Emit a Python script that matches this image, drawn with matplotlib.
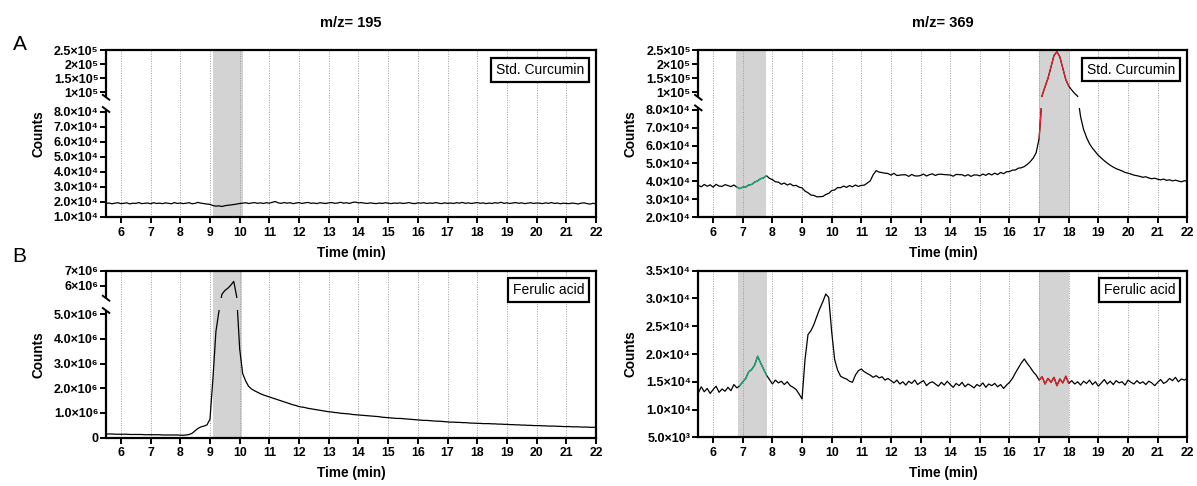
import numpy as np
import matplotlib
matplotlib.use("Agg")
import matplotlib.pyplot as plt
from matplotlib.patches import Rectangle

plt.rcParams['font.family'] = ['Liberation Sans', 'DejaVu Sans']

time_min = np.round(np.arange(5.5, 22.05, 0.1), 1)

# m/z 195, Std. Curcumin (x1e3 counts)
a195 = [19.0, 19.3, 18.8, 19.2, 19.5, 18.9, 19.1, 19.4, 18.7, 19.2,
        19.0, 19.6, 18.9, 19.1, 19.3, 18.8, 19.5, 19.0, 19.2, 18.9,
        19.4, 19.1, 18.8, 19.6, 19.0, 19.3, 18.9, 19.2, 19.5, 18.8,
        19.1, 19.7, 19.2, 18.9, 18.6, 18.4,
        17.6, 17.2, 17.4, 17.0, 17.5, 17.8, 18.0, 18.3, 18.6, 19.0,
        19.2, 19.5, 19.0, 19.3, 19.6, 19.1, 19.4, 19.0, 19.5, 19.2,
        19.8, 20.3, 19.4, 19.1, 19.6, 19.2, 19.5, 18.9, 19.3, 19.6,
        19.0, 19.4, 19.7, 19.1, 19.3, 18.9, 19.5, 19.2, 19.0, 19.4,
        19.6, 19.1, 19.3, 19.8, 19.2, 19.5, 19.0, 19.7, 19.9, 19.4,
        19.6, 19.2, 19.0, 19.4, 19.1, 18.9, 19.3, 19.0, 19.5, 19.2,
        18.9, 19.3, 19.1, 19.4, 19.0, 19.2, 19.6, 19.1, 18.9, 19.4,
        19.2, 19.5, 19.0, 19.3, 19.1, 19.6, 19.2, 18.9, 19.4, 19.1,
        19.3, 19.0, 19.5, 19.2, 19.7, 19.1, 19.4, 19.0, 19.3, 19.6,
        19.1, 19.4, 18.9, 19.3, 19.0, 19.5, 19.2, 19.8, 19.1, 19.4,
        19.0, 19.3, 19.6, 19.1, 19.4, 18.9, 19.2, 19.5, 19.0, 19.3,
        19.2, 18.9, 19.4, 19.1, 19.6, 19.0, 19.3, 18.8, 19.2, 19.0,
        18.9, 19.3, 19.0, 18.7, 19.2, 19.4, 18.9, 18.6, 19.1, 18.8]

# m/z 369, Std. Curcumin (x1e3 counts)
a369 = [37.8, 37.0, 38.3, 37.3, 38.1, 36.8, 38.4, 37.4, 37.2, 38.2,
        37.7, 37.1, 38.0, 36.8, 36.0, 36.8, 36.9, 38.0, 38.3, 39.6,
        40.3, 41.5, 42.0, 43.2, 41.7, 41.0, 39.8, 39.6, 38.4, 39.1,
        38.0, 38.7, 37.6, 37.8, 36.8, 36.4, 34.6, 33.7, 32.4, 32.2,
        31.4, 31.5, 31.6, 32.7, 33.3, 34.9, 35.2, 36.6, 36.5, 37.4,
        36.7, 37.7, 37.0, 38.0, 37.2, 37.8, 37.9, 39.1, 40.3, 43.7,
        46.0, 45.2, 44.9, 44.6, 44.4, 43.5, 44.5, 43.3, 43.5, 43.7,
        43.7, 42.8, 43.9, 43.1, 43.0, 43.3, 44.1, 43.0, 43.8, 44.2,
        43.3, 44.0, 44.0, 43.8, 43.7, 43.6, 42.9, 43.9, 43.8, 43.7,
        43.0, 43.8, 42.8, 43.6, 43.6, 43.1, 44.1, 43.4, 44.4, 43.6,
        44.6, 43.8, 45.0, 44.3, 45.4, 45.5, 46.3, 46.4, 47.4, 47.6,
        48.3, 49.5, 51.0, 53.0, 56.0, 64.0, 88.0, 120.0, 150.0, 190.0,
        230.0, 244.0, 225.0, 185.0, 145.0, 122.0, 108.0, 96.0, 86.0, 76.0,
        69.0, 64.5, 61.0, 58.5, 56.5, 54.5, 53.0, 51.5, 50.2, 49.0,
        48.0, 47.1, 46.5, 45.8, 45.0, 44.6, 44.1, 43.5, 43.2, 42.8,
        42.3, 42.6, 41.9, 41.5, 41.8, 41.2, 40.9, 41.3, 40.6, 40.9,
        40.3, 40.7, 40.2, 39.8, 40.4, 40.1]

# m/z 195, Ferulic acid (x1e6 counts)
b195 = [0.15, 0.15, 0.15, 0.14, 0.14, 0.14, 0.14, 0.14, 0.13, 0.13,
        0.13, 0.13, 0.13, 0.12, 0.12, 0.12, 0.12, 0.12, 0.12, 0.11,
        0.11, 0.11, 0.11, 0.11, 0.11, 0.10, 0.10, 0.11, 0.13, 0.18,
        0.28, 0.38, 0.44, 0.47, 0.52, 0.75, 2.40, 4.30, 5.10, 5.45,
        5.70, 5.85, 6.05, 6.30, 5.30, 3.60, 2.60, 2.30, 2.08, 1.97,
        1.90, 1.84, 1.78, 1.73, 1.69, 1.65, 1.61, 1.57, 1.53, 1.49,
        1.45, 1.41, 1.37, 1.33, 1.30, 1.26, 1.24, 1.22, 1.19, 1.17,
        1.15, 1.13, 1.11, 1.09, 1.07, 1.05, 1.04, 1.02, 1.01, 0.99,
        0.98, 0.97, 0.96, 0.94, 0.93, 0.92, 0.91, 0.90, 0.89, 0.88,
        0.87, 0.86, 0.85, 0.83, 0.82, 0.81, 0.80, 0.79, 0.78, 0.78,
        0.77, 0.76, 0.75, 0.74, 0.73, 0.72, 0.71, 0.70, 0.70, 0.69,
        0.68, 0.67, 0.67, 0.66, 0.65, 0.64, 0.63, 0.63, 0.62, 0.62,
        0.61, 0.61, 0.60, 0.59, 0.59, 0.58, 0.58, 0.57, 0.57, 0.57,
        0.56, 0.56, 0.55, 0.55, 0.54, 0.54, 0.53, 0.53, 0.52, 0.52,
        0.51, 0.51, 0.50, 0.50, 0.49, 0.49, 0.49, 0.48, 0.48, 0.47,
        0.47, 0.47, 0.46, 0.46, 0.45, 0.45, 0.45, 0.44, 0.44, 0.44,
        0.43, 0.43, 0.43, 0.42, 0.42, 0.42]

# m/z 369, Ferulic acid (x1e3 counts)
b369 = [13.0, 14.1, 13.2, 13.8, 12.9, 13.6, 14.2, 13.1, 13.7, 13.3,
        14.0, 13.4, 14.5, 13.9, 14.3, 15.0, 15.6, 16.8, 17.2, 18.0,
        19.6, 18.4, 17.3, 16.2, 15.4, 14.6, 15.3, 14.8, 15.1, 14.5,
        15.0, 14.3, 14.0, 13.6, 12.8, 11.9, 19.0, 23.5, 24.2, 25.3,
        26.8, 28.2, 29.4, 30.8, 30.2, 24.0, 19.0, 17.1, 16.0, 15.7,
        15.5, 15.1, 14.9, 16.2, 17.0, 17.3, 16.8, 16.5, 16.2, 15.8,
        16.1, 15.7, 15.9, 15.3, 15.6, 15.2, 14.8, 15.3, 14.6, 15.0,
        14.4, 15.1, 14.7, 15.3, 14.5, 14.9, 15.2, 14.3, 14.8, 15.0,
        14.6, 14.2, 14.9, 14.4, 15.1, 14.5, 14.0, 14.7, 14.3, 14.9,
        14.1, 14.6, 14.3, 13.9, 14.5, 14.2, 14.8, 14.0, 14.6, 14.3,
        14.7, 14.1, 14.5, 13.8, 14.4, 14.9, 15.6, 16.6, 17.5, 18.4,
        19.1, 18.3, 17.6, 16.8, 16.2, 15.3, 15.9, 14.6, 15.6, 14.9,
        15.8, 14.3, 15.5, 14.8, 16.0, 14.7, 15.2, 14.6, 15.0, 14.4,
        15.1, 14.7, 15.3, 14.5, 15.0, 14.2, 14.8, 15.4, 14.6, 15.1,
        14.5, 15.2, 14.8, 15.0, 14.4, 15.3, 14.9, 14.6, 15.2, 14.7,
        15.0, 14.5, 15.1, 14.8, 14.3, 14.9, 15.4, 14.7, 15.0, 15.6,
        15.2, 15.8, 15.0, 15.5, 15.3, 15.6]

# highlighted windows (min)
shade_a195 = [(9.1, 10.1)]
shade_a369 = [(6.78, 7.8), (17.0, 18.03)]
shade_b195 = [(9.1, 10.08)]
shade_b369 = [(6.83, 7.83), (17.0, 18.02)]
green_win = (6.8, 7.8)
red_win = (17.0, 18.0)

GREEN = '#18b37a'
RED = '#ea1f27'
SHADE = '#d3d3d3'


def make_break(d, f):
    d = np.asarray(d, float)
    f = np.asarray(f, float)

    def conv(x, src, dst):
        x = np.asarray(x, float)
        out = np.interp(x, src, dst)
        lo = (dst[1] - dst[0]) / (src[1] - src[0])
        hi = (dst[-1] - dst[-2]) / (src[-1] - src[-2])
        out = np.where(x < src[0], dst[0] + (x - src[0]) * lo, out)
        out = np.where(x > src[-1], dst[-1] + (x - src[-1]) * hi, out)
        return out

    return (lambda y: conv(y, d, f)), (lambda v: conv(v, f, d))


def setup(ax, shades, yticks, ylabels, brk=None, ylim=None):
    for lo, hi in shades:
        ax.axvspan(lo, hi, color=SHADE, lw=0, zorder=0)
    ax.set_xlim(5.5, 22)
    ax.set_xticks(range(6, 23))
    ax.xaxis.grid(True, linestyle=(0, (1, 1.5)), color='#9a9a9a', lw=0.7)
    ax.set_axisbelow(True)
    if brk is not None:
        fwd, inv = make_break(*brk)
        ax.set_yscale('function', functions=(fwd, inv))
        ax.set_ylim(brk[0][0], brk[0][-1])
    else:
        ax.set_ylim(*ylim)
    ax.set_yticks(yticks)
    ax.set_yticklabels(ylabels)
    for s in ax.spines.values():
        s.set_linewidth(1.6)
    ax.tick_params(axis='both', direction='out', length=4, width=1.4)
    ax.tick_params(axis='x', labelsize=8.8, pad=3)
    ax.tick_params(axis='y', labelsize=9, pad=1.5)
    for lab in ax.get_xticklabels() + ax.get_yticklabels():
        lab.set_fontweight('bold')
    ax.set_xlabel('Time (min)', fontsize=9.8, fontweight='bold', labelpad=5)
    ax.set_ylabel('Counts', fontsize=9.8, fontweight='bold')
    ax.yaxis.set_label_coords(-0.124, 0.5)

    clips = [None]
    if brk is not None:
        f = brk[1]
        ax.spines['left'].set_visible(False)
        w = ax.get_position().width * fig.get_figwidth() * fig.dpi
        h = ax.get_position().height * fig.get_figheight() * fig.dpi
        dx, dy = 4.0 / w, 3.0 / h
        kw = dict(transform=ax.transAxes, clip_on=False, color='black',
                  solid_capstyle='butt')
        ax.plot([0, 0], [0, f[1]], lw=1.6, **kw)
        ax.plot([0, 0], [f[2], 1], lw=1.6, **kw)
        for yb in (f[1], f[2]):
            ax.plot([-dx, dx], [yb + dy, yb - dy], lw=1.4, **kw)
        clips = [Rectangle((0, 0), 1, f[1], transform=ax.transAxes),
                 Rectangle((0, f[2]), 1, 1 - f[2], transform=ax.transAxes)]
    return clips


def trace(ax, clips, t, y, color, lw=0.9, win=None):
    t = np.asarray(t)
    y = np.asarray(y, float)
    if win is not None:
        m = (t >= win[0] - 1e-6) & (t <= win[1] + 1e-6)
        t, y = t[m], y[m]
    for c in clips:
        ln, = ax.plot(t, y, color=color, lw=lw, zorder=3)
        if c is not None:
            ln.set_clip_path(c)


def label_box(ax, text, ypos):
    ax.text(0.976, ypos, text, transform=ax.transAxes, ha='right', va='top',
            fontsize=10, zorder=5,
            bbox=dict(boxstyle='square,pad=0.35', fc='white', ec='black', lw=1.6))


fig = plt.figure(figsize=(11.97, 4.86), dpi=100)
ax1 = fig.add_axes([0.0886, 0.5535, 0.4093, 0.3426])
ax2 = fig.add_axes([0.5834, 0.5529, 0.4085, 0.3442])
ax3 = fig.add_axes([0.0886, 0.0994, 0.4093, 0.3436])
ax4 = fig.add_axes([0.5834, 0.1002, 0.4085, 0.3428])

t = time_min
a195_v = np.array(a195) * 1e3
a369_v = np.array(a369) * 1e3
b195_v = np.array(b195) * 1e6
b369_v = np.array(b369) * 1e3

lowA = ['1.0×10⁴', '2.0×10⁴', '3.0×10⁴', '4.0×10⁴', '5.0×10⁴', '6.0×10⁴',
        '7.0×10⁴', '8.0×10⁴']
upA = ['1×10⁵', '1.5×10⁵', '2×10⁵', '2.5×10⁵']

# A, m/z 195
c1 = setup(ax1, shade_a195,
           [1e4, 2e4, 3e4, 4e4, 5e4, 6e4, 7e4, 8e4, 1e5, 1.5e5, 2e5, 2.5e5],
           lowA + upA,
           brk=([1e4, 8.15e4, 8.2e4, 2.5e5], [0, 0.6456, 0.719, 1]))
trace(ax1, c1, t, a195_v, 'black')
label_box(ax1, 'Std. Curcumin', 0.925)

# A, m/z 369
c2 = setup(ax2, shade_a369,
           [2e4, 3e4, 4e4, 5e4, 6e4, 7e4, 8e4, 1e5, 1.5e5, 2e5, 2.5e5],
           lowA[1:] + upA,
           brk=([2e4, 8.1e4, 8.2e4, 2.5e5], [0, 0.654, 0.717, 1]))
trace(ax2, c2, t, a369_v, 'black')
trace(ax2, c2, t, a369_v, GREEN, win=green_win)
trace(ax2, c2, t, a369_v, RED, win=red_win)
label_box(ax2, 'Std. Curcumin', 0.925)

# B, m/z 195
c3 = setup(ax3, shade_b195,
           [0, 1e6, 2e6, 3e6, 4e6, 5e6, 6e6, 7e6],
           ['0', '1.0×10⁶', '2.0×10⁶', '3.0×10⁶', '4.0×10⁶', '5.0×10⁶',
            '6×10⁶', '7×10⁶'],
           brk=([0, 5.15e6, 5.2e6, 7e6], [0, 0.7617, 0.8353, 1]))
trace(ax3, c3, t, b195_v, 'black')
label_box(ax3, 'Ferulic acid', 0.925)

# B, m/z 369
c4 = setup(ax4, shade_b369,
           [5e3, 1e4, 1.5e4, 2e4, 2.5e4, 3e4, 3.5e4],
           ['5.0×10³', '1.0×10⁴', '1.5×10⁴', '2.0×10⁴', '2.5×10⁴',
            '3.0×10⁴', '3.5×10⁴'],
           ylim=(5e3, 3.5e4))
trace(ax4, c4, t, b369_v, 'black')
trace(ax4, c4, t, b369_v, GREEN, win=(6.85, 7.85))
trace(ax4, c4, t, b369_v, RED, win=red_win)
label_box(ax4, 'Ferulic acid', 0.925)

fig.text(351 / 1197, 1 - 23 / 486, 'm/z= 195', ha='center', va='center',
         fontsize=10.5, fontweight='bold')
fig.text(943 / 1197, 1 - 23 / 486, 'm/z= 369', ha='center', va='center',
         fontsize=10.5, fontweight='bold')
fig.text(20 / 1197, 1 - 44 / 486, 'A', ha='center', va='center', fontsize=15)
fig.text(19 / 1197, 1 - 257 / 486, 'B', ha='center', va='center', fontsize=15)

fig.savefig('out.png', dpi=100)
